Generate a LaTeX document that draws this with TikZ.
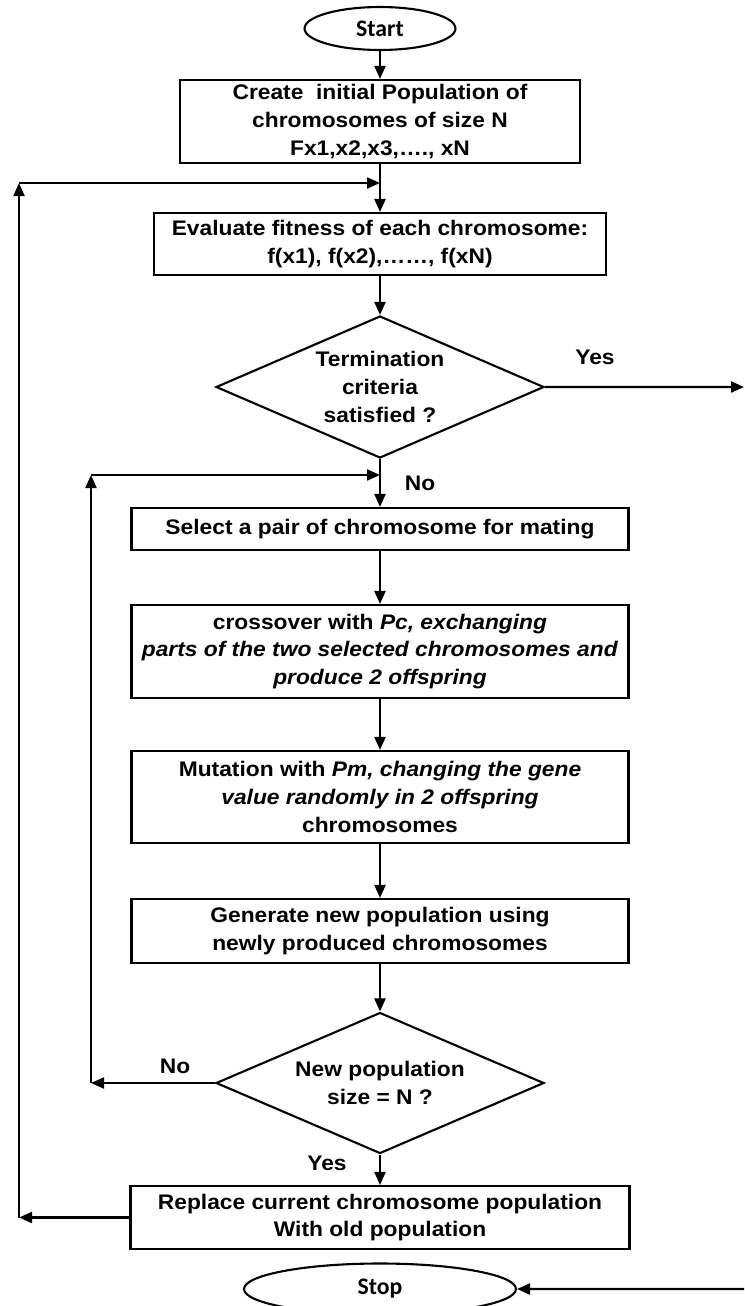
\documentclass[tikz,border=0pt]{standalone}
\usepackage{fontspec}
\setmainfont{Liberation Sans}[FakeStretch=1.08]
\newfontfamily\capfont{Carlito}
\usetikzlibrary{shapes.geometric, arrows.meta, positioning}
\tikzstyle{terminal} = [
    ellipse,
    minimum width=3.02cm,
    minimum height=0.86cm,
    inner sep=0pt,
    text centered,
    draw=black,
    line width=1.2pt,
    font=\capfont\bfseries\fontsize{13.5}{15}\selectfont
]
\tikzstyle{process} = [
    rectangle,
    minimum width=9.94cm,
    minimum height=1cm,
    inner sep=2pt,
    text centered,
    align=center,
    draw=black,
    line width=1.2pt,
    font=\bfseries\fontsize{12}{15.8}\selectfont
]
\tikzstyle{decision} = [
    diamond,
    aspect=2.3,
    minimum width=6.56cm,
    minimum height=2.84cm,
    inner sep=0pt,
    text centered,
    align=center,
    draw=black,
    line width=1.2pt,
    font=\bfseries\fontsize{12}{15.8}\selectfont
]
\tikzstyle{branch} = [
    font=\bfseries\fontsize{12}{14}\selectfont
]
\tikzset{
    >={Triangle[length=2.6mm,width=2.2mm]}
}
\tikzstyle{arrow} = [
    line width=1.2pt,
    ->,
    draw=black
]
\begin{document}
\begin{tikzpicture}[node distance=1.8cm]
\useasboundingbox (0,0) rectangle (14.88,-26.12);

% Nodes
\node (start) [terminal] at (7.6,-0.57) {Start};

\node (init) [process, below of=start, minimum width=8cm, minimum height=1.66cm, yshift=-0.06cm]
{Create\ \ initial Population of\\chromosomes of size N\\Fx1,x2,x3,…., xN};

\node (eval) [process, below of=init, minimum width=9.04cm, minimum height=1.24cm, yshift=-0.65cm]
{Evaluate fitness of each chromosome:\\f(x1), f(x2),……, f(xN)};

\node (term) [decision, below of=eval, yshift=-1.06cm]
{Termination\\criteria\\satisfied ?};

\node (yes1) [branch, right of=term, xshift=2.5cm, yshift=0.6cm] {Yes};

\node (no1) [branch, below of=term, xshift=0.8cm, yshift=-0.12cm] {No};

\node (select) [process, below of=term, minimum height=0.84cm, yshift=-1.04cm]
{Select a pair of chromosome for mating};

\node (cross) [process, below of=select, minimum height=1.86cm, yshift=-0.65cm]
{crossover with \textit{Pc, exchanging}\\\textit{parts of the two selected chromosomes and}\\\textit{produce 2 offspring}};

\node (mutate) [process, below of=cross, minimum height=1.84cm, yshift=-1.11cm]
{Mutation with \textit{Pm, changing the gene}\\\textit{value randomly in 2 offspring}\\chromosomes};

\node (newpop) [process, below of=mutate, minimum height=1.28cm, yshift=-0.88cm]
{Generate new population using\\newly produced chromosomes};

\node (sizecheck) [decision, below of=newpop, minimum height=2.82cm, yshift=-1.24cm]
{New population\\size = N ?};

\node (no2) [branch, left of=sizecheck, xshift=-2.3cm, yshift=0.34cm] {No};

\node (yes2) [branch, below of=sizecheck, xshift=-1.06cm, yshift=0.2cm] {Yes};

\node (replace) [process, below of=sizecheck, minimum width=9.98cm, minimum height=1.26cm, yshift=-0.89cm]
{Replace current chromosome population\\With old population};

\node (stop) [terminal, below of=replace, minimum width=5.44cm, minimum height=1.02cm, yshift=0.37cm] {Stop};

\coordinate (outerTop) at (0.38,-3.66);
\coordinate (innerTop) at (1.82,-9.5);
\coordinate (yesOut) at (14.88,-7.74);
\coordinate (stopIn) at (14.88,-25.78);

% Arrows
\draw [arrow] (start) -- (init);

\draw [arrow] (init) -- (eval);

\draw [arrow] (eval) -- (term);

\draw [arrow] (term.east) -- (yesOut);

\draw [arrow] (term.south) -- (select);

\draw [arrow] (select) -- (cross);

\draw [arrow] (cross) -- (mutate);

\draw [arrow] (mutate) -- (newpop);

\draw [arrow] (newpop) -- (sizecheck);

\draw [arrow] (sizecheck.south) -- (replace);

\draw [arrow] (sizecheck.west) -- (sizecheck.west -| innerTop);

\draw [arrow] (sizecheck.west -| innerTop) -- (innerTop);

\draw [arrow] (innerTop) -- (innerTop -| select.north);

\draw [arrow] (replace.west) -- (replace.west -| outerTop);

\draw [arrow] (replace.west -| outerTop) -- (outerTop);

\draw [arrow] (outerTop) -- (outerTop -| eval.north);

\draw [arrow] (stopIn) -- (stop.east);

\end{tikzpicture}
\end{document}
